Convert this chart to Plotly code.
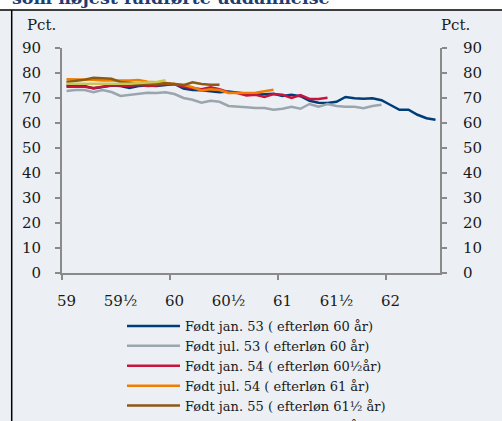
import plotly.graph_objects as go

# month index since age 59 (category axis)
months = list(range(42))
tick_pos = [0, 6, 12, 18, 24, 30, 36]
tick_labels = ["59", "59½", "60", "60½", "61", "61½", "62"]
year_bounds = [-0.5, 11.5, 23.5, 35.5]

jan53 = [75.0, 75.0, 74.8, 73.8, 74.5, 75.0, 74.8, 74.0, 74.8, 75.0,
         74.8, 75.3, 75.6, 73.8, 73.2, 73.1, 72.8, 72.3, 72.6, 72.2,
         71.8, 71.3, 71.5, 71.7, 70.8, 71.3, 70.7, 68.9, 68.1, 68.0,
         68.5, 70.4, 69.9, 69.7, 69.9, 69.1, 67.2, 65.3, 65.3, 63.3,
         61.9, 61.3]
jul53 = [72.8, 73.2, 73.2, 72.3, 73.2, 72.4, 70.8, 71.3, 71.7, 72.1,
         72.0, 72.3, 71.6, 70.0, 69.3, 68.1, 68.9, 68.5, 66.8, 66.4,
         66.3, 66.0, 66.0, 65.3, 65.7, 66.5, 65.7, 67.6, 66.5, 67.6,
         66.8, 66.5, 66.5, 65.9, 66.8, 67.3]
jan54 = [74.5, 74.5, 74.5, 74.0, 74.5, 75.0, 75.0, 74.8, 75.3, 74.8,
         75.0, 75.5, 75.5, 74.5, 74.0, 73.5, 74.3, 73.5, 72.3, 72.0,
         71.0, 71.3, 70.4, 71.6, 71.3, 70.0, 71.2, 69.6, 69.6, 70.1]
jul54 = [77.5, 77.5, 77.5, 77.3, 77.0, 77.0, 76.8, 77.0, 77.2, 76.5,
         76.3, 76.0, 75.7, 75.3, 74.3, 73.0, 73.5, 73.2, 72.0, 72.0,
         72.2, 72.1, 72.7, 73.3]
jan55 = [76.4, 76.7, 77.3, 78.1, 77.9, 77.7, 76.4, 76.0, 75.7, 75.7,
         75.5, 76.0, 75.7, 75.1, 76.3, 75.6, 75.3, 75.3]
jul55 = [75.7, 75.7, 75.7, 75.5, 75.5, 75.5, 75.5, 75.7, 76.0, 76.3,
         76.4, 77.1]

series_names = [
    "Født jan. 53 ( efterløn 60 år)",
    "Født jul. 53 ( efterløn 60 år)",
    "Født jan. 54 ( efterløn 60½år)",
    "Født jul. 54 ( efterløn 61 år)",
    "Født jan. 55 ( efterløn 61½ år)",
    "Født jul. 55 ( efterløn 62 år)",
]
series_values = [jan53, jul53, jan54, jul54, jan55, jul55]
colors = ["#003C78", "#9AA5AD", "#C8143C", "#F07D00", "#8C5A14", "#C8C850"]

BG = "#ECF0F4"
AX = "#8A8A8A"
FONT = "DejaVu Serif"
TXT = "#1a1a1a"

fig = go.Figure()
for k, (name, vals, col) in enumerate(zip(series_names, series_values, colors)):
    fig.add_trace(go.Scatter(
        x=months[:len(vals)], y=vals, name=name, mode="lines",
        line=dict(color=col, width=2.5), hoverinfo="skip",
        yaxis="y2" if k == len(series_values) - 1 else "y"))

W, H = 502, 421
ML, MR, MT, MB = 62, 62, 48, 148
pw, ph = W - ML - MR, H - MT - MB

def px(x):
    return (x - ML) / pw

def py(y):
    return (H - MB - y) / ph

axis_common = dict(
    range=[0, 90], dtick=10, ticks="outside", ticklen=5, tickwidth=2,
    tickcolor=AX, showline=True, linecolor=AX, linewidth=2,
    showgrid=False, zeroline=False, tickfont=dict(family=FONT, size=15, color=TXT),
)

fig.update_layout(
    width=W, height=H,
    margin=dict(l=ML, r=MR, t=MT, b=MB, autoexpand=False),
    paper_bgcolor=BG, plot_bgcolor=BG,
    font=dict(family=FONT, size=15, color=TXT),
    showlegend=True,
    legend=dict(
        x=px(122), y=py(311), xanchor="left", yanchor="top",
        bgcolor="rgba(0,0,0,0)", borderwidth=0,
        font=dict(family=FONT, size=13, color=TXT),
        itemwidth=53, traceorder="normal",
    ),
    xaxis=dict(
        range=[-0.5, 41.5], tickmode="array", tickvals=tick_pos,
        ticktext=tick_labels, ticks="", showgrid=False, zeroline=False,
        showline=True, linecolor=AX, linewidth=2,
        tickfont=dict(family=FONT, size=15, color=TXT),
        ticklabelstandoff=13,
        minor=dict(tickmode="array", tickvals=year_bounds, ticks="outside",
                   ticklen=5, tickwidth=2, tickcolor=AX, showgrid=False),
    ),
    yaxis=dict(**axis_common, ticklabelstandoff=11),
    yaxis2=dict(**axis_common, overlaying="y", side="right", ticklabelstandoff=13),
)

# white header strip, frame lines
fig.add_shape(type="rect", xref="paper", yref="paper", x0=px(-20), x1=px(W + 20),
              y0=py(10), y1=py(-20), fillcolor="white", line_width=0, layer="below")
fig.add_shape(type="line", xref="paper", yref="paper", x0=px(-20), x1=px(W + 20),
              y0=py(10), y1=py(10), line=dict(color="black", width=1.5))
fig.add_shape(type="line", xref="paper", yref="paper", x0=px(11.7), x1=px(11.7),
              y0=py(10), y1=py(H + 20), line=dict(color="black", width=1.5))

fig.add_annotation(text="<b>som højest fuldførte uddannelse</b>", xref="paper", yref="paper",
                   x=px(10), y=py(10), xanchor="left", yanchor="bottom", showarrow=False,
                   font=dict(family=FONT, size=17.5, color="#1F3C73"))
fig.add_annotation(text="Pct.", xref="paper", yref="paper", x=px(41.7), y=py(25),
                   xanchor="center", yanchor="middle", showarrow=False,
                   font=dict(family=FONT, size=15, color=TXT))
fig.add_annotation(text="Pct.", xref="paper", yref="paper", x=px(455), y=py(25),
                   xanchor="center", yanchor="middle", showarrow=False,
                   font=dict(family=FONT, size=15, color=TXT))

fig.write_html("out.html", config={"displayModeBar": False},
               post_script="document.body.style.margin='0';")
